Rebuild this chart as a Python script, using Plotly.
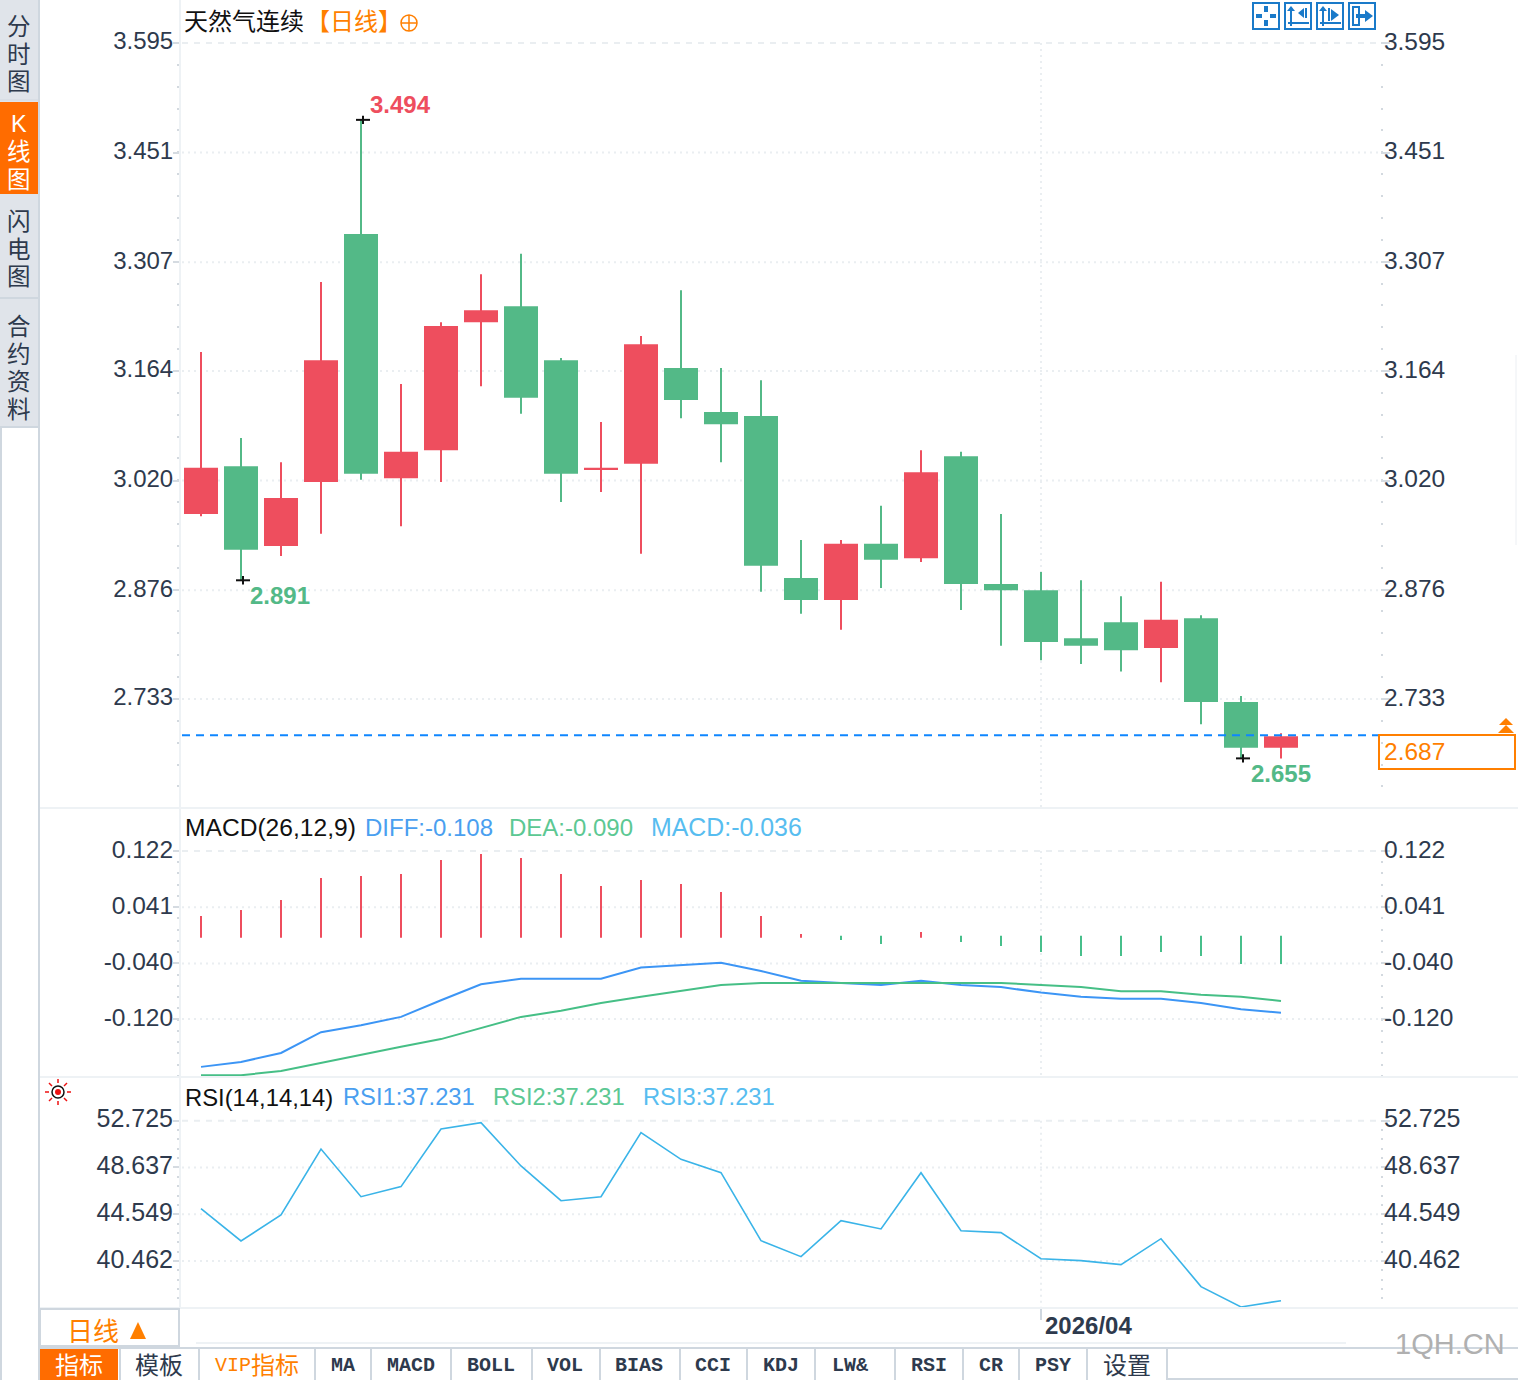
import plotly.graph_objects as go

W = 1518
H = 1380

# candles
DAYS = list(range(28))
OPENS = [2.976, 3.039, 2.934, 3.018, 3.344, 3.023, 3.060, 3.228, 3.249, 3.178, 3.034, 3.042, 3.168, 3.110,
         3.105, 2.892, 2.863, 2.937, 2.918, 3.052, 2.884, 2.876, 2.813, 2.834, 2.800, 2.839, 2.729, 2.669]
CLOSES = [3.037, 2.929, 2.997, 3.178, 3.029, 3.058, 3.223, 3.244, 3.129, 3.029, 3.037, 3.199, 3.126, 3.094,
          2.908, 2.863, 2.937, 2.916, 3.031, 2.884, 2.876, 2.808, 2.803, 2.797, 2.837, 2.729, 2.669, 2.684]
HIGHS = [3.189, 3.076, 3.044, 3.281, 3.494, 3.147, 3.228, 3.291, 3.318, 3.181, 3.097, 3.210, 3.270, 3.168,
         3.152, 2.942, 2.942, 2.987, 3.060, 3.058, 2.976, 2.900, 2.889, 2.868, 2.887, 2.843, 2.737, 2.688]
LOWS = [2.973, 2.889, 2.921, 2.950, 3.021, 2.960, 3.018, 3.144, 3.108, 2.992, 3.005, 2.924, 3.102, 3.044,
        2.874, 2.845, 2.824, 2.879, 2.913, 2.850, 2.803, 2.784, 2.779, 2.769, 2.755, 2.700, 2.655, 2.655]
LAST_LINE = 2.6855

MACD_HIST = [0.0284, 0.0370, 0.0514, 0.0831, 0.0860, 0.0889, 0.1090, 0.1177, 0.1119, 0.0889, 0.0716, 0.0802,
             0.0745, 0.0630, 0.0284, 0.0025, -0.0062, -0.0119, 0.0054, -0.0090, -0.0148, -0.0234, -0.0292,
             -0.0292, -0.0234, -0.0292, -0.0407, -0.0407]
DIFF = [-0.189, -0.182, -0.169, -0.139, -0.129, -0.117, -0.093, -0.070, -0.062, -0.062, -0.062, -0.046, -0.042,
        -0.039, -0.051, -0.065, -0.068, -0.071, -0.065, -0.071, -0.074, -0.082, -0.088, -0.091, -0.091, -0.097,
        -0.106, -0.111]
DEA = [-0.201, -0.201, -0.195, -0.183, -0.172, -0.160, -0.149, -0.133, -0.117, -0.108, -0.097, -0.088, -0.080,
       -0.071, -0.068, -0.068, -0.068, -0.068, -0.068, -0.068, -0.068, -0.071, -0.074, -0.080, -0.080, -0.085,
       -0.088, -0.094]
RSI = [45.03, 42.21, 44.48, 50.25, 46.08, 46.96, 52.00, 52.55, 48.77, 45.73, 46.08, 51.68, 49.35, 48.18,
       42.24, 40.84, 43.98, 43.26, 48.18, 43.11, 42.94, 40.66, 40.49, 40.14, 42.41, 38.22, 36.44, 36.99]

PRICE_TICKS = [3.595, 3.451, 3.307, 3.164, 3.020, 2.876, 2.733]
MACD_TICKS = [0.122, 0.041, -0.040, -0.120]
RSI_TICKS = [52.725, 48.637, 44.549, 40.462]

TABS = ["MA", "MACD", "BOLL", "VOL", "BIAS", "CCI", "KDJ", "LW&", "RSI", "CR", "PSY"]
TAB_CENTERS = [343, 411, 491, 565, 639, 713, 781, 850, 929, 991, 1053]
TAB_LINES = [120, 199, 315, 371, 451, 532, 600, 680, 747, 815, 895, 963, 1019, 1087, 1167]

RED = "#ee4e5e"
GREEN = "#53b987"
HIST_GREEN = "#47bf8b"
BLUE = "#3c95f5"
LINE_GREEN = "#46bf86"
SKY = "#3ab4e8"
ORANGE = "#ff7f00"
INK = "#2e3a4d"
GRID = "#eaeef1"
EDGE = "#cfd7df"
LATIN = "Liberation Sans, Noto Sans CJK SC"
MONO = "Liberation Mono, Noto Sans CJK SC"

X0, X1 = 181, 1380
PRICE_RANGE = [2.5898, 3.6515]
MACD_RANGE = [-0.2036, 0.1825]
RSI_RANGE = [36.35, 56.46]


def px(x):
    return x / W


def py(y):
    return 1 - y / H


shapes = []
annotations = []


def rect(x0, y0, x1, y1, fill=None, line=None, width=2):
    shapes.append(dict(type="rect", xref="paper", yref="paper", x0=px(x0), x1=px(x1), y0=py(y0), y1=py(y1),
                       fillcolor=fill or "rgba(0,0,0,0)", line=dict(color=line or "rgba(0,0,0,0)", width=width if line else 0)))


def seg(x0, y0, x1, y1, color, width=2, dash=None):
    shapes.append(dict(type="line", xref="paper", yref="paper", x0=px(x0), x1=px(x1), y0=py(y0), y1=py(y1),
                       line=dict(color=color, width=width, dash=dash)))


def poly(points, color):
    path = "M " + " L ".join("%f,%f" % (px(a), py(b)) for a, b in points) + " Z"
    shapes.append(dict(type="path", xref="paper", yref="paper", path=path, fillcolor=color, line=dict(width=0)))


def circle(cx, cy, r, fill=None, line=None, width=2):
    shapes.append(dict(type="circle", xref="paper", yref="paper", x0=px(cx - r), x1=px(cx + r), y0=py(cy + r), y1=py(cy - r),
                       fillcolor=fill or "rgba(0,0,0,0)", line=dict(color=line or "rgba(0,0,0,0)", width=width if line else 0)))


def label(text, x, y, color=INK, size=24, family=LATIN, anchor="left"):
    annotations.append(dict(text=text, xref="paper", yref="paper", x=px(x), y=py(y), xanchor=anchor, yanchor="middle",
                            showarrow=False, font=dict(color=color, size=size, family=family), borderpad=0, borderwidth=0))


def mark_label(text, day, price, color, xshift, yshift):
    annotations.append(dict(text="<b>" + text + "</b>", x=day, y=price, xref="x", yref="y", xanchor="left", yanchor="middle",
                            xshift=xshift, yshift=yshift, showarrow=False, font=dict(color=color, size=24, family=LATIN)))


def minor_ticks(top, step, low):
    out = []
    v = top
    while v > low:
        out.append(v)
        v -= step
    return out


def y_axis(ticks, rng, domain, step, size, right=None):
    ax = dict(domain=domain, range=rng, tickmode="array", tickvals=ticks, ticktext=["%.3f" % t for t in ticks],
              tickfont=dict(family=LATIN, size=size, color=INK), showgrid=False, zeroline=False, ticks="outside",
              tickcolor="#d5dbe1", tickwidth=2, anchor="x", fixedrange=True, ticklabelshift=-2,
              minor=dict(ticks="outside", ticklen=2, tickwidth=2, tickcolor="#d3d9df", tickmode="array",
                         tickvals=minor_ticks(ticks[0], step, rng[0]), showgrid=False))
    if right:
        ax.update(side="right", overlaying=right, showline=False, ticklen=9, ticklabelstandoff=-11)
    else:
        ax.update(showline=True, linecolor="#eef2f5", linewidth=2, ticklen=6, ticklabelstandoff=-5)
    return ax


price_dom = [py(808), 1]
macd_dom = [py(1077), py(809)]
rsi_dom = [py(1308), py(1078)]

candle_colors = [RED if c >= o else GREEN for o, c in zip(OPENS, CLOSES)]

fig = go.Figure()

# wicks and bodies
fig.add_trace(go.Bar(x=DAYS, base=LOWS, y=[h - l for h, l in zip(HIGHS, LOWS)], width=0.05, yaxis="y", showlegend=False,
                     marker=dict(color=candle_colors, line=dict(width=0))))
fig.add_trace(go.Bar(x=DAYS, base=[min(o, c) for o, c in zip(OPENS, CLOSES)], y=[abs(c - o) for o, c in zip(OPENS, CLOSES)],
                     width=0.85, yaxis="y", showlegend=False, marker=dict(color=candle_colors, line=dict(width=0))))
# cross marks on the high and the two lows
fig.add_trace(go.Scatter(x=[4.05, 1.05, 26.05], y=[3.494, 2.889, 2.655], mode="markers", yaxis="y", showlegend=False,
                         marker=dict(symbol="line-ew", size=10, line=dict(color="#111111", width=2))))
fig.add_trace(go.Scatter(x=[4.05, 1.05, 26.05], y=[3.494, 2.889, 2.655], mode="markers", yaxis="y", showlegend=False,
                         marker=dict(symbol="line-ns", size=6, line=dict(color="#111111", width=2))))

# red sticks sit a touch under zero in the original
hist_base = [-0.003 if v > 0 else 0 for v in MACD_HIST]
fig.add_trace(go.Bar(x=DAYS, y=[v - b for v, b in zip(MACD_HIST, hist_base)], base=hist_base, width=0.05, yaxis="y2", showlegend=False,
                     marker=dict(color=[RED if v > 0 else HIST_GREEN for v in MACD_HIST], line=dict(width=0))))
fig.add_trace(go.Scatter(x=DAYS, y=DIFF, mode="lines", line=dict(color=BLUE, width=2), yaxis="y2", showlegend=False))
fig.add_trace(go.Scatter(x=DAYS, y=DEA, mode="lines", line=dict(color=LINE_GREEN, width=2), yaxis="y2", showlegend=False))
fig.add_trace(go.Scatter(x=DAYS, y=RSI, mode="lines", line=dict(color=SKY, width=1.6), yaxis="y3", showlegend=False))

# empty traces so the right side axes get drawn
for name in ["y4", "y5", "y6"]:
    fig.add_trace(go.Scatter(x=[None], y=[None], mode="markers", yaxis=name, showlegend=False))

# gridlines, first one of each pane is dashed
for ticks, ref in [(PRICE_TICKS, "y"), (MACD_TICKS, "y2"), (RSI_TICKS, "y3")]:
    for n, t in enumerate(ticks):
        shapes.append(dict(type="line", xref="paper", yref=ref, x0=px(X0 + 1), x1=px(X1 - 1), y0=t, y1=t, layer="below",
                           line=dict(color=GRID, width=2, dash="6px,6px" if n == 0 else "2px,4px")))

# month line
for ref, top, bottom in [("y", PRICE_TICKS[0], PRICE_RANGE[0]), ("y2", MACD_TICKS[0], MACD_RANGE[0]), ("y3", RSI_TICKS[0], RSI_RANGE[0])]:
    shapes.append(dict(type="line", xref="x", yref=ref, x0=21, x1=21, y0=top, y1=bottom, layer="below",
                       line=dict(color=GRID, width=2, dash="2px,4px")))
shapes.append(dict(type="line", xref="x", yref="paper", x0=21, x1=21, y0=py(1309), y1=py(1320), line=dict(color=EDGE, width=2)))

# last price line
shapes.append(dict(type="line", xref="paper", yref="y", x0=px(X0 + 1), x1=px(X1), y0=LAST_LINE, y1=LAST_LINE,
                   line=dict(color="#0f86ff", width=2, dash="8px,6px")))
rect(1379, 735, 1515, 769, line=ORANGE)
label("2.687", 1384, 751, ORANGE, 24.5)
poly([(1506, 718), (1513, 725), (1499, 725)], ORANGE)
poly([(1506, 725), (1514, 733), (1498, 733)], ORANGE)

# pane separators
seg(40, 808, W, 808, "#eef2f5")
seg(40, 1077, W, 1077, "#eef2f5")
seg(40, 1308, W, 1308, "#eef2f5")
seg(196, 1343, 1346, 1343, "#eef2f5")
seg(1516, 355, 1516, 545, "#eceff3", 1)

# pane titles
label("天然气连续", 184, 21, "#111111", 24)
label("【日线】", 306, 21, ORANGE, 24)
circle(409, 23, 8, line=ORANGE, width=1.5)
seg(401, 23, 417, 23, ORANGE, 1.5)
seg(409, 15, 409, 31, ORANGE, 1.5)

label("MACD(26,12,9)", 185, 827, "#111111", 24.6)
label("DIFF:-0.108", 365, 827, "#4a9ff0", 24)
label("DEA:-0.090", 509, 827, "#5cc893", 24)
label("MACD:-0.036", 651, 827, "#57bdf0", 24.9)
label("RSI(14,14,14)", 185, 1097, "#111111", 23.8)
label("RSI1:37.231", 343, 1097, "#4a9ff0", 23.7)
label("RSI2:37.231", 493, 1097, "#5cc893", 23.7)
label("RSI3:37.231", 643, 1097, "#57bdf0", 23.7)

mark_label("3.494", 4, 3.494, RED, 7, 15)
mark_label("2.891", 1, 2.889, GREEN, 7, -15)
mark_label("2.655", 26, 2.655, GREEN, 8, -15)

annotations.append(dict(text="<b>2026/04</b>", x=21, y=py(1325), xref="x", yref="paper", xanchor="left", yanchor="middle", xshift=2,
                        showarrow=False, font=dict(color=INK, size=24, family=LATIN)))

# left rail
rect(0, 0, 39, 428, fill="#e0e4ea")
rect(0, 102, 38, 194, fill="#ff6c00")
seg(0, 100, 39, 100, "#d3d9e0", 1)
seg(0, 298, 39, 298, EDGE, 2)
seg(0, 427, 39, 427, EDGE, 2)
seg(1, 428, 1, H, EDGE, 2)
seg(39, 0, 39, H, EDGE, 2)
for text, ys, color in [("分时图", [27, 55, 82], INK), ("K线图", [124, 152, 180], "#ffffff"),
                       ("闪电图", [222, 250, 277], INK), ("合约资料", [327, 355, 382, 410], INK)]:
    for ch, y in zip(text, ys):
        label(ch, 19, y, color, 23.5, LATIN, "center")

# little sun in the rsi pane
circle(58, 1092, 6, line="#111111", width=1.5)
circle(58, 1092, 3, fill="#ee1111")
for a, b, c, d in [(58, 1079, 58, 1083), (58, 1101, 58, 1105), (45, 1092, 49, 1092), (67, 1092, 71, 1092),
                   (49, 1083, 52, 1086), (67, 1083, 64, 1086), (49, 1101, 52, 1098), (67, 1101, 64, 1098)]:
    seg(a, b, c, d, "#ee1111", 1.5)

# bottom bars
rect(40, 1309, 179, 1346, line=EDGE)
label("日线", 67, 1332, ORANGE, 26)
poly([(138, 1322), (146, 1339), (130, 1339)], ORANGE)

seg(40, 1348, W, 1348, EDGE)
seg(1167, 1379, W, 1379, EDGE)
seg(40, 1379, 40, H, EDGE)
rect(40, 1349, 118, H, fill="#ff6c00")
label("指标", 79, 1365, "#ffffff", 24, LATIN, "center")
label("模板", 159, 1365, INK, 24, LATIN, "center")
label("VIP", 215, 1365, ORANGE, 20, MONO)
label("指标", 275, 1365, ORANGE, 24, LATIN, "center")
label("设置", 1127, 1365, INK, 24, LATIN, "center")
for name, center in zip(TABS, TAB_CENTERS):
    label("<b>" + name + "</b>", center, 1365, INK, 20, MONO, "center")
for x in TAB_LINES:
    seg(x, 1349, x, H, EDGE)

label("1QH.CN", 1395, 1344, "#b0b0b0", 29)

# tool icons, top right
ICON = "#1a7ac9"
for x in [1252, 1284, 1316, 1348]:
    rect(x + 1, 3, x + 27, 29, line=ICON)
rect(1264, 6, 1268, 12, fill=ICON)
rect(1264, 20, 1268, 26, fill=ICON)
rect(1256, 14, 1262, 18, fill=ICON)
rect(1270, 14, 1276, 18, fill=ICON)
for x in [1289, 1321]:
    seg(x + 2, 8, x + 2, 26, ICON)
    seg(x - 1, 23, x + 20, 23, ICON)
    poly([(x + 2, 6), (x + 6, 11), (x - 2, 11)], ICON)
poly([(1298, 13), (1304, 8), (1304, 18)], ICON)
seg(1306, 8, 1306, 18, ICON)
poly([(1339, 15), (1331, 9), (1331, 21)], ICON)
seg(1329, 8, 1329, 21, ICON)
rect(1353, 7, 1359, 25, line=ICON)
seg(1356, 16, 1366, 16, ICON, 4)
poly([(1373, 16), (1365, 10), (1365, 22)], ICON)

fig.update_layout(
    width=W,
    height=H,
    margin=dict(l=0, r=0, t=0, b=0),
    paper_bgcolor="#ffffff",
    plot_bgcolor="#ffffff",
    showlegend=False,
    hovermode=False,
    barmode="overlay",
    font=dict(family=LATIN),
    xaxis=dict(domain=[px(X0), px(X1)], range=[-0.5, 29.475], visible=False, anchor="y3", fixedrange=True),
    yaxis=y_axis(PRICE_TICKS, PRICE_RANGE, price_dom, 0.02873, 24),
    yaxis2=y_axis(MACD_TICKS, MACD_RANGE, macd_dom, 0.0162, 24.5),
    yaxis3=y_axis(RSI_TICKS, RSI_RANGE, rsi_dom, 0.8175, 25),
    yaxis4=y_axis(PRICE_TICKS, PRICE_RANGE, price_dom, 0.02873, 24.5, right="y"),
    yaxis5=y_axis(MACD_TICKS, MACD_RANGE, macd_dom, 0.0162, 24.5, right="y2"),
    yaxis6=y_axis(RSI_TICKS, RSI_RANGE, rsi_dom, 0.8175, 25, right="y3"),
    shapes=shapes,
    annotations=annotations,
)

fig.write_html("out.html", config={"displayModeBar": False}, post_script="document.body.style.margin='0';")
